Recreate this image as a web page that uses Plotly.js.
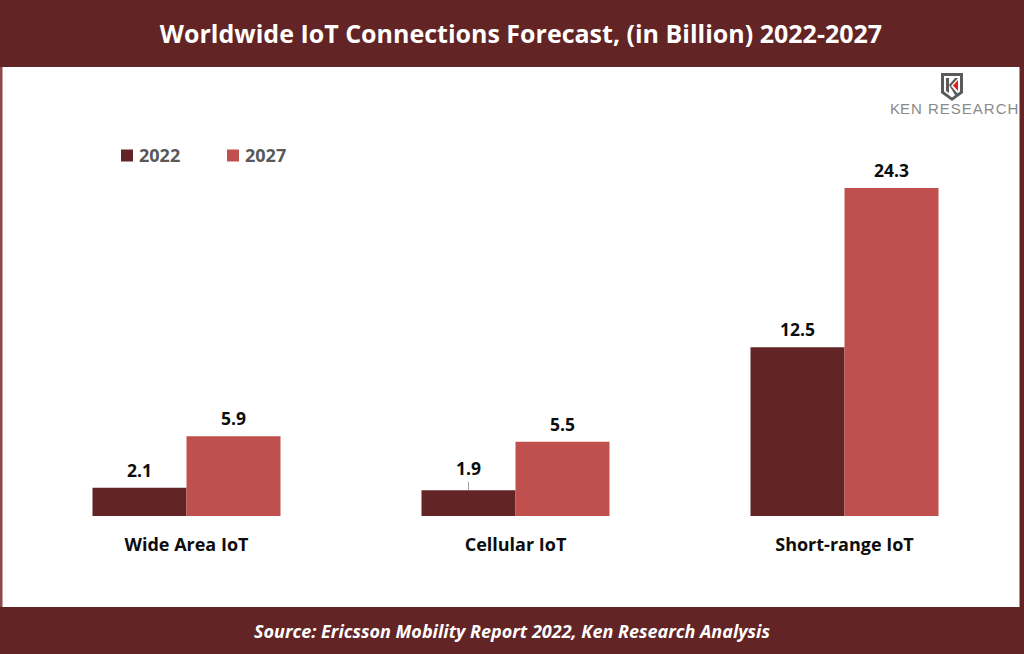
<!DOCTYPE html>
<html>
<head>
<meta charset="utf-8">
<script src="https://cdn.plot.ly/plotly-3.0.1.min.js"></script>
<style>
html,body{margin:0;padding:0;background:#fff;}
#chart{width:1024px;height:654px;}
</style>
</head>
<body>
<div id="chart"></div>
<script>
// ---- Data ----
const categories = ["Wide Area IoT", "Cellular IoT", "Short-range IoT"];
const seriesNames = ["2022", "2027"];
const values2022 = [2.1, 1.9, 12.5];
const values2027 = [5.9, 5.5, 24.3];
const titleText = "Worldwide IoT Connections Forecast, (in Billion) 2022-2027";
const sourceText = "Source: Ericsson Mobility Report 2022, Ken Research Analysis";

// ---- Styling / geometry ----
const W = 1024, H = 654;
const M = {l: 22, r: 15, t: 152, b: 138};
const plotW = W - M.l - M.r, plotH = H - M.t - M.b;
const pxPerUnit = 13.5;
const maroon = "#622424";
const colors = ["#622424", "#C0504D"];
const FONT = "Open Sans, Noto Sans, sans-serif";

const px = x => (x - M.l) / plotW;
const py = y => (H - M.b - y) / plotH;

const traces = [
  {type: "bar", name: seriesNames[0], x: categories, y: values2022, marker: {color: colors[0]}, hoverinfo: "x+y"},
  {type: "bar", name: seriesNames[1], x: categories, y: values2027, marker: {color: colors[1]}, hoverinfo: "x+y"}
];

const barHalf = 47;
const annotations = [];
[values2022, values2027].forEach((vals, si) => {
  vals.forEach((v, i) => {
    const a = {
      x: categories[i], y: v, xref: "x", yref: "y",
      text: "<b>" + v.toFixed(1) + "</b>",
      font: {family: FONT, size: 17.5, color: "#0d0d0d"},
      showarrow: false,
      xshift: si === 0 ? -barHalf : barHalf,
      yshift: 18, yanchor: "middle", xanchor: "center"
    };
    if (si === 0 && i === 1) {
      // small leader line on the Cellular IoT 2022 label
      a.showarrow = true; a.arrowhead = 0; a.arrowwidth = 0.8; a.arrowcolor = "#8c8c8c";
      a.ax = 0; a.ay = -22; a.yshift = 0; a.standoff = 0; a.startstandoff = 0;
    }
    annotations.push(a);
  });
});

// custom legend
const legendX = [121, 227];
seriesNames.forEach((n, i) => {
  annotations.push({
    xref: "paper", yref: "paper", x: px(legendX[i] + 16), y: py(155),
    xanchor: "left", yanchor: "middle", showarrow: false,
    text: "<b>" + n + "</b>", font: {family: FONT, size: 18, color: "#595959"}
  });
});

// footer source
annotations.push({
  xref: "paper", yref: "paper", x: px(512), y: py(631), xanchor: "center", yanchor: "middle",
  showarrow: false, text: "<b><i>" + sourceText + "</i></b>",
  font: {family: FONT, size: 18, color: "#ffffff"}
});

// logo text
annotations.push({
  xref: "paper", yref: "paper", x: px(954), y: py(108), xanchor: "center", yanchor: "middle",
  showarrow: false, text: "K<span style='letter-spacing:1px'>EN RESEARCH</span>",
  font: {family: "Liberation Sans, Arial, sans-serif", size: 15, color: "#8a8a8a", weight: 300}
});

const shapes = [];
// header and footer bands
shapes.push({type: "rect", xref: "paper", yref: "paper", x0: px(0), x1: px(W), y0: py(0), y1: py(67), fillcolor: maroon, line: {width: 0}, layer: "below"});
shapes.push({type: "rect", xref: "paper", yref: "paper", x0: px(0), x1: px(W), y0: py(607), y1: py(H), fillcolor: maroon, line: {width: 0}, layer: "below"});
// side borders
shapes.push({type: "rect", xref: "paper", yref: "paper", x0: px(0), x1: px(2.5), y0: py(67), y1: py(607), fillcolor: "#8a4a4a", line: {width: 0}, layer: "below"});
shapes.push({type: "rect", xref: "paper", yref: "paper", x0: px(1019.5), x1: px(W), y0: py(67), y1: py(607), fillcolor: maroon, line: {width: 0}, layer: "below"});
// legend swatches
legendX.forEach((lx, i) => {
  shapes.push({type: "rect", xref: "paper", yref: "paper", x0: px(lx), x1: px(lx + 12), y0: py(149.5), y1: py(161.5), fillcolor: colors[i], line: {width: 0}});
});
// logo icon (shield with K)
function pathFrom(pts){ return "M" + pts.map(p => px(p[0]) + "," + py(p[1])).join(" L") + " Z"; }
shapes.push({type: "path", xref: "paper", yref: "paper", path: pathFrom([[941,73],[963,73],[963,93],[952,101],[941,93]]), fillcolor: "#5a5a5a", line: {width: 0}});
shapes.push({type: "path", xref: "paper", yref: "paper", path: pathFrom([[944,76],[960,76],[960,91.5],[952,97.5],[944,91.5]]), fillcolor: "#ffffff", line: {width: 0}});
shapes.push({type: "path", xref: "paper", yref: "paper", path: pathFrom([[946,78],[949,78],[949,93],[946,91]]), fillcolor: "#5a5a5a", line: {width: 0}});
shapes.push({type: "path", xref: "paper", yref: "paper", path: pathFrom([[949,85],[955,78],[958,78],[951,86],[958,94],[955,95]]), fillcolor: "#5a5a5a", line: {width: 0}});
shapes.push({type: "path", xref: "paper", yref: "paper", path: pathFrom([[958,80],[958,91],[953,85.5]]), fillcolor: "#e02020", line: {width: 0}});

const layout = {
  width: W, height: H,
  margin: M,
  paper_bgcolor: "#ffffff", plot_bgcolor: "#ffffff",
  barmode: "group", bargap: 1 - 188 / 329, bargroupgap: 0,
  showlegend: false,
  title: {
    text: "<b>" + titleText + "</b>",
    x: 521 / W, xanchor: "center", xref: "container",
    y: 1 - 34.5 / H, yanchor: "middle", yref: "container",
    font: {family: FONT, size: 25, color: "#ffffff"}
  },
  xaxis: {
    type: "category", range: [-0.5, 2.5], showgrid: false, zeroline: false, showline: false,
    ticks: "", tickfont: {family: FONT, size: 18, color: "#0d0d0d", weight: "bold"},
    ticklabelstandoff: 16, fixedrange: true
  },
  yaxis: {
    range: [0, plotH / pxPerUnit], visible: false, showgrid: false, zeroline: false, fixedrange: true
  },
  annotations: annotations,
  shapes: shapes
};

Plotly.newPlot("chart", traces, layout, {displayModeBar: false, staticPlot: true});
</script>
</body>
</html>
